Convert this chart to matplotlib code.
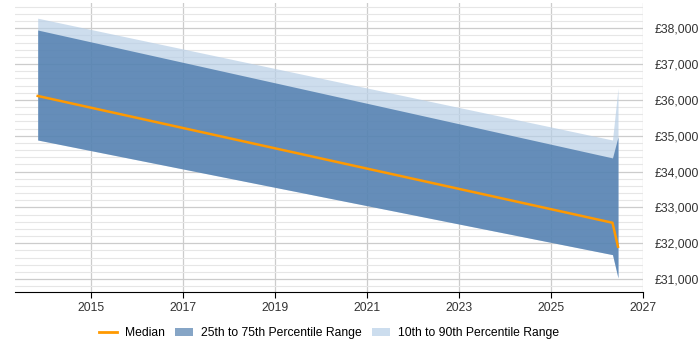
import matplotlib
matplotlib.use("Agg")
import matplotlib.pyplot as plt
from matplotlib.ticker import MultipleLocator, FuncFormatter
from matplotlib.patches import Patch
from matplotlib.lines import Line2D

plt.rcParams['font.family'] = ['Liberation Sans', 'DejaVu Sans']

dates = [2013.83, 2026.33, 2026.45]
p10 = [34880, 31680, 31030]
p25 = [34880, 31680, 31030]
median = [36110, 32570, 31900]
p75 = [37950, 34380, 34970]
p90 = [38280, 34880, 36330]
year_ticks = [2015, 2017, 2019, 2021, 2023, 2025, 2027]

fig = plt.figure(figsize=(7, 3.5), dpi=100)
ax = fig.add_axes([0.021, 0.166, 0.898, 0.825])

orange = '#FF9900'

ax.fill_between(dates, p10, p90, color='#B8CFE6', alpha=0.7, lw=0, zorder=2)
ax.fill_between(dates, p25, p75, color='#3D6FA5', alpha=0.72, lw=0, zorder=3)
ax.plot(dates, median, color=orange, lw=1.8, zorder=4)

ax.set_xlim(2013.33, 2027)
ax.set_ylim(30640, 38700)
ax.set_xticks(year_ticks)
ax.set_xticklabels([str(y) for y in year_ticks])
ax.yaxis.set_major_locator(MultipleLocator(1000))
ax.yaxis.set_minor_locator(MultipleLocator(200))
ax.yaxis.set_major_formatter(FuncFormatter(lambda v, p: '£{:,.0f}'.format(v)))
ax.yaxis.tick_right()
ax.grid(which='major', axis='both', color='#CCCCCC', lw=0.9, zorder=1)
ax.grid(which='minor', axis='y', color='#E6E6E6', lw=0.8, zorder=1)
ax.set_axisbelow(True)
for s in ['left', 'right', 'top']:
    ax.spines[s].set_visible(False)
ax.spines['bottom'].set_color('black')
ax.tick_params(axis='y', which='both', length=0, labelsize=8.7, pad=8)
ax.tick_params(axis='x', length=4, labelsize=8.7, color='black')
for t in ax.get_xticklabels() + ax.get_yticklabels():
    t.set_color('#333333')

handles = [Line2D([0], [0], color=orange, lw=2),
           Patch(facecolor='#86A5C6', edgecolor='none'),
           Patch(facecolor='#CCDDEE', edgecolor='none')]
labels = ['Median', '25th to 75th Percentile Range', '10th to 90th Percentile Range']
fig.legend(handles, labels, loc='center', bbox_to_anchor=(0.47, 0.048), ncol=3,
           frameon=False, fontsize=8.7, handlelength=1.5, columnspacing=0.9, handletextpad=0.6)

fig.savefig('out.png', dpi=100)
